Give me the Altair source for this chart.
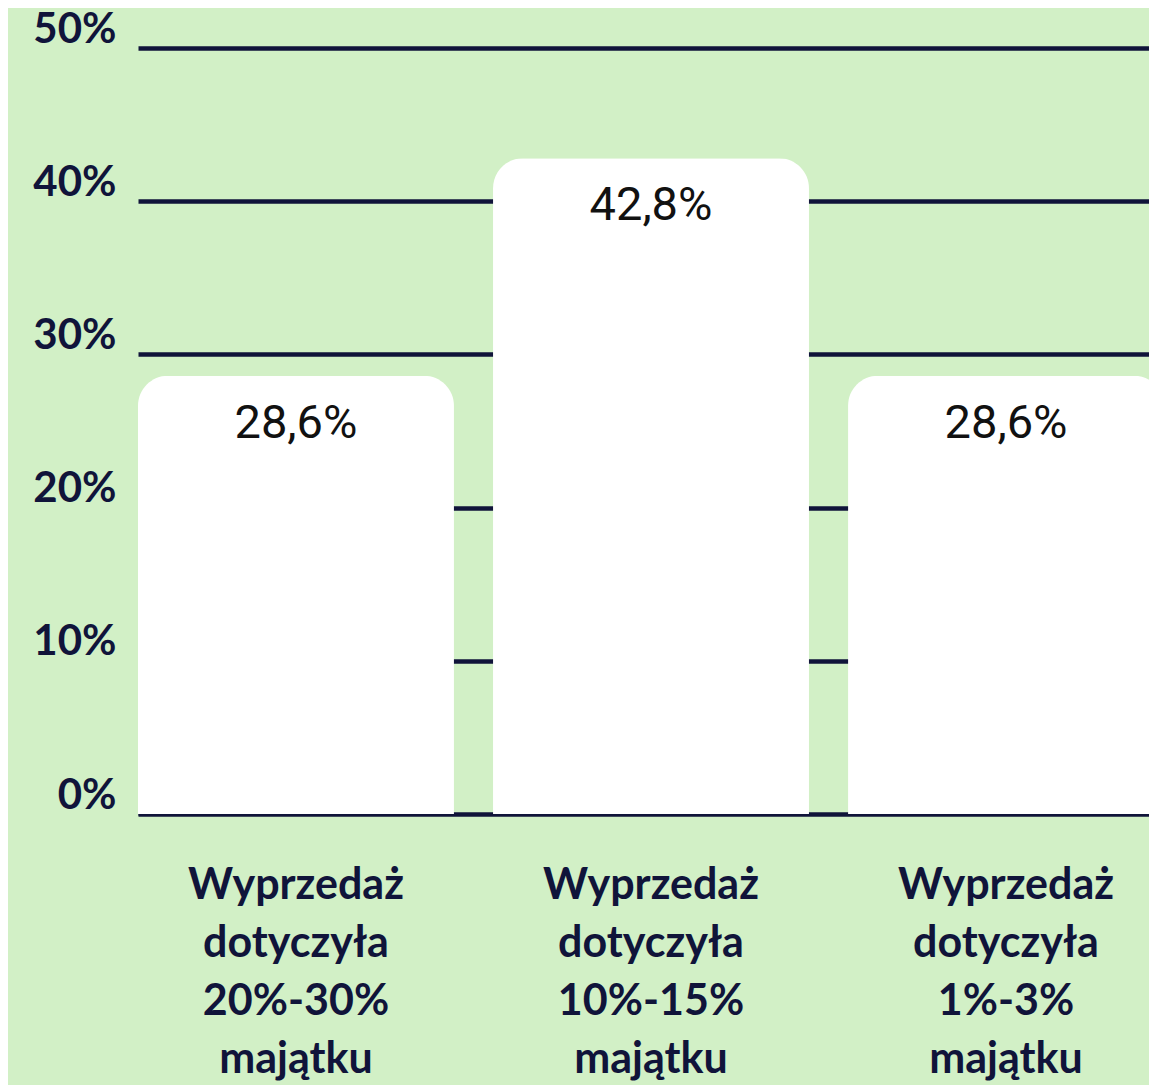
import altair as alt
import pandas as pd

categories = [
    "Wyprzedaż\ndotyczyła\n20%-30%\nmajątku",
    "Wyprzedaż\ndotyczyła\n10%-15%\nmajątku",
    "Wyprzedaż\ndotyczyła\n1%-3%\nmajątku",
]
values = [28.6, 42.8, 28.6]
value_labels = ["28,6%", "42,8%", "28,6%"]
y_ticks = [0, 10, 20, 30, 40, 50]

df = pd.DataFrame({"cat": categories, "val": values, "lab": value_labels})

BG = "#d2f0c6"
NAVY = "#10143a"

x = alt.X(
    "cat:N",
    sort=categories,
    title=None,
    scale=alt.Scale(paddingInner=0.11, paddingOuter=0, range=[0, 1026]),
    axis=alt.Axis(
        labelExpr="split(datum.label, '\\n')",
        labelAngle=0,
        labelFont="Lato",
        labelFontWeight="bold",
        labelFontSize=43,
        labelLineHeight=58,
        labelColor=NAVY,
        labelPadding=50,
        labelBaseline="top",
        labelLimit=0,
        ticks=False,
        domain=True,
        domainColor=NAVY,
        domainWidth=2.5,
        grid=False,
    ),
)
y = alt.Y(
    "val:Q",
    title=None,
    scale=alt.Scale(domain=[0, 50]),
    axis=alt.Axis(
        values=y_ticks,
        labelExpr="datum.value + '%'",
        labelFont="Lato",
        labelFontWeight="bold",
        labelFontSize=42,
        labelColor=NAVY,
        labelBaseline="alphabetic",
        labelOffset=-6,
        labelPadding=22,
        ticks=False,
        domain=False,
        grid=True,
        gridColor=NAVY,
        gridWidth=4.5,
        gridOpacity=1,
    ),
)

bars = alt.Chart(df).mark_bar(
    color="white", cornerRadiusTopLeft=30, cornerRadiusTopRight=30
).encode(x=x, y=y)

texts = alt.Chart(df).mark_text(
    baseline="middle", dy=48, font="Roboto", fontSize=47, fontWeight="normal",
    color="#111111"
).encode(x=alt.X("cat:N", sort=categories), y="val:Q", text="lab:N")

chart = (
    alt.layer(bars, texts)
    .properties(
        width=1011,
        height=766,
        background=BG,
        padding={"left": 130, "top": 40, "right": 0, "bottom": 300},
        autosize=alt.AutoSizeParams(type="none"),
    )
    .configure_view(stroke=None, fill=BG)
)

chart.save("out.html", embed_options={"renderer": "svg", "actions": False})
